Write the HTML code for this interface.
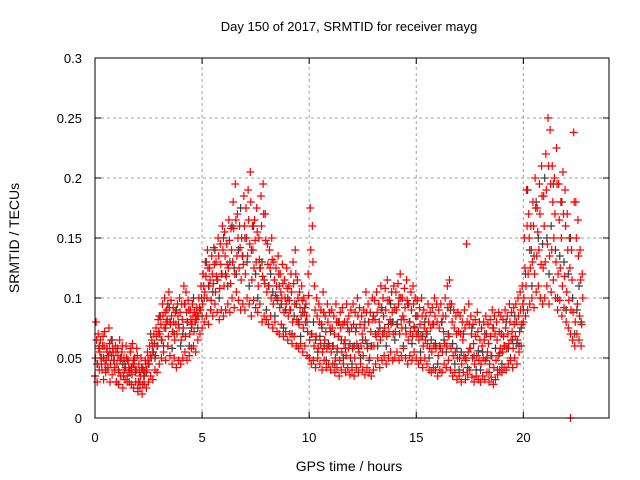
<!DOCTYPE html>
<html><head><meta charset="utf-8"><style>
body{margin:0;background:#fff}
svg{display:block;font-family:"Liberation Sans",sans-serif}
</style></head><body>
<svg id="chart" width="640" height="480" viewBox="0 0 640 480" xmlns="http://www.w3.org/2000/svg">
<rect width="640" height="480" fill="#fff"/>
<text x="349" y="31" font-size="13" text-anchor="middle">Day 150 of 2017, SRMTID for receiver mayg</text>
<text x="349" y="471" font-size="14" text-anchor="middle">GPS time / hours</text>
<text transform="translate(19,238) rotate(-90)" font-size="14" text-anchor="middle">SRMTID / TECUs</text>
<g id="grid"></g>
<g id="ticks"></g>
<g id="gray"></g>
<g id="red"></g>
<rect x="95" y="58" width="514" height="360" fill="none" stroke="#000" stroke-width="1"/>
</svg>
<script>
const xTicks=[0,5,10,15,20];
const yTicks=[0,0.05,0.1,0.15,0.2,0.25,0.3];
const yTickLabels=["0","0.05","0.1","0.15","0.2","0.25","0.3"];
const redStep=0.1;
const redLo=[.035,.030,.040,.045,.032,.038,.042,.030,.036,.040,
.030,.028,.035,.025,.032,.030,.038,.028,.025,.030,
.022,.025,.020,.028,.025,.030,.035,.032,.040,.038,
.045,.050,.055,.048,.060,.052,.045,.050,.042,.048,
.045,.050,.055,.048,.052,.058,.060,.055,.065,.070,
.075,.080,.085,.078,.090,.085,.095,.088,.082,.090,
.085,.090,.095,.088,.100,.092,.105,.098,.090,.095,
.090,.100,.095,.085,.098,.092,.088,.095,.080,.085,
.082,.078,.085,.075,.080,.072,.070,.078,.068,.072,
.065,.070,.062,.068,.060,.058,.062,.055,.060,.052,
.050,.045,.048,.042,.050,.045,.040,.048,.042,.045,
.040,.045,.038,.042,.035,.040,.045,.038,.042,.036,
.040,.035,.042,.038,.045,.040,.036,.042,.038,.035,
.040,.045,.050,.042,.048,.052,.045,.050,.055,.048,
.050,.055,.048,.052,.058,.050,.045,.052,.048,.055,
.050,.045,.048,.042,.050,.045,.040,.038,.042,.040,
.035,.040,.038,.045,.042,.048,.040,.035,.038,.032,
.035,.030,.038,.032,.036,.040,.034,.030,.035,.032,
.030,.035,.032,.038,.030,.034,.028,.032,.036,.040,
.038,.042,.040,.045,.048,.042,.050,.045,.055,.060,
.080,.085,.090,.095,.100,.092,.105,.110,.100,.095,
.100,.110,.095,.105,.115,.100,.090,.098,.085,.092,
.080,.075,.070,.065,.060,.070,.065,.060];
const redMid1=[.050,.045,.055,.040,.060,.048,.052,.045,.058,.042,
.045,.038,.050,.035,.042,.048,.040,.036,.045,.040,
.030,.035,.028,.038,.040,.045,.050,.055,.052,.060,
.070,.065,.075,.080,.068,.078,.072,.065,.070,.075,
.065,.075,.068,.080,.070,.078,.072,.082,.085,.090,
.095,.105,.100,.110,.098,.112,.105,.115,.108,.120,
.110,.118,.125,.112,.130,.120,.135,.125,.115,.128,
.120,.135,.145,.115,.125,.130,.110,.125,.118,.112,
.105,.110,.100,.095,.102,.098,.092,.100,.088,.095,
.085,.090,.080,.095,.082,.078,.085,.075,.080,.072,
.065,.070,.060,.068,.058,.062,.055,.065,.058,.060,
.055,.060,.050,.058,.048,.055,.062,.052,.058,.050,
.058,.050,.062,.055,.060,.052,.065,.058,.050,.060,
.060,.068,.072,.065,.070,.075,.068,.072,.078,.070,
.072,.078,.070,.075,.082,.070,.065,.072,.068,.075,
.070,.065,.068,.060,.065,.062,.058,.055,.060,.058,
.052,.058,.055,.062,.060,.068,.058,.052,.055,.050,
.050,.045,.052,.048,.055,.058,.050,.045,.052,.048,
.045,.050,.048,.055,.045,.052,.042,.048,.052,.058,
.055,.060,.058,.062,.065,.058,.068,.065,.072,.078,
.100,.110,.120,.125,.130,.120,.135,.140,.128,.125,
.130,.145,.135,.140,.150,.130,.120,.125,.110,.118,
.105,.098,.090,.088,.080,.095,.085,.078];
const redMid2=[.065,.058,.050,.068,.045,.055,.062,.052,.048,.055,
.052,.048,.060,.040,.050,.042,.058,.045,.040,.052,
.038,.042,.035,.045,.048,.052,.060,.062,.068,.072,
.078,.085,.088,.082,.092,.085,.080,.078,.085,.088,
.082,.095,.088,.090,.082,.085,.080,.085,.092,.100,
.110,.118,.125,.115,.120,.128,.118,.135,.128,.140,
.135,.128,.148,.140,.158,.165,.150,.142,.135,.160,
.150,.165,.180,.140,.148,.155,.132,.160,.170,.148,
.128,.125,.132,.115,.110,.120,.105,.112,.100,.108,
.098,.105,.112,.120,.100,.092,.098,.088,.085,.102,
.140,.130,.090,.085,.080,.078,.088,.072,.080,.075,
.075,.070,.080,.068,.075,.078,.065,.080,.072,.075,
.078,.072,.085,.078,.070,.075,.088,.080,.072,.082,
.082,.088,.080,.092,.085,.090,.098,.082,.088,.092,
.090,.095,.100,.085,.092,.098,.080,.090,.095,.085,
.085,.078,.085,.075,.072,.080,.075,.078,.085,.080,
.075,.080,.072,.085,.092,.095,.080,.075,.070,.072,
.070,.065,.075,.080,.078,.070,.062,.068,.072,.065,
.060,.065,.070,.062,.068,.075,.070,.065,.072,.070,
.068,.075,.070,.080,.072,.078,.080,.085,.090,.095,
.125,.160,.150,.140,.160,.175,.155,.170,.185,.160,
.190,.210,.195,.180,.170,.195,.165,.150,.170,.160,
.140,.125,.115,.180,.150,.135,.115,.100];
const redHi=[.080,.070,.065,.060,.072,.058,.075,.065,.055,.060,
.058,.065,.055,.050,.060,.048,.055,.062,.050,.058,
.045,.050,.040,.048,.055,.060,.065,.070,.075,.082,
.085,.095,.100,.090,.105,.098,.092,.088,.095,.100,
.095,.110,.105,.098,.090,.095,.088,.092,.100,.110,
.120,.130,.140,.125,.135,.142,.130,.150,.145,.160,
.155,.145,.165,.158,.180,.195,.170,.160,.150,.185,
.175,.190,.205,.160,.165,.175,.150,.185,.195,.170,
.145,.140,.150,.130,.125,.135,.120,.128,.115,.125,
.110,.120,.130,.140,.115,.105,.110,.100,.095,.120,
.175,.160,.110,.100,.095,.090,.105,.085,.095,.088,
.090,.085,.095,.080,.088,.092,.080,.095,.085,.090,
.095,.088,.100,.092,.085,.090,.105,.095,.088,.100,
.098,.105,.095,.110,.100,.108,.115,.098,.105,.110,
.105,.112,.120,.100,.108,.115,.095,.105,.110,.100,
.098,.092,.100,.090,.085,.095,.088,.092,.100,.095,
.090,.095,.085,.100,.110,.115,.095,.090,.085,.088,
.085,.080,.090,.145,.095,.085,.078,.082,.088,.080,
.075,.080,.085,.078,.082,.090,.085,.080,.088,.085,
.082,.090,.085,.095,.088,.092,.095,.100,.105,.110,
.150,.190,.170,.160,.180,.200,.175,.195,.210,.185,
.220,.250,.240,.210,.200,.225,.195,.180,.205,.190,
.170,.150,.140,.238,.180,.165,.140,.120];
const grayStep=0.2;
const grayVals=[.045,.050,.040,.055,.048,.040,.045,.035,.042,.038,
.030,.035,.045,.055,.060,.065,.075,.080,.070,.078,
.070,.080,.075,.085,.090,.100,.110,.105,.115,.120,
.120,.130,.125,.140,.135,.130,.140,.120,.125,.115,
.110,.105,.100,.095,.090,.090,.085,.080,.088,.080,
.070,.065,.068,.060,.062,.060,.055,.065,.058,.062,
.060,.058,.065,.062,.060,.070,.075,.072,.078,.080,
.078,.082,.075,.080,.076,.072,.068,.070,.065,.062,
.060,.065,.070,.062,.058,.055,.050,.058,.052,.056,
.055,.050,.052,.058,.054,.060,.058,.065,.062,.075,
.120,.140,.135,.150,.145,.150,.160,.140,.135,.130,
.120,.100,.090,.080];
const grayVals2=[.035,.060,.050,.042,.065,.030,.050,.045,.030,.048,
.025,.042,.038,.070,.050,.085,.060,.095,.058,.090,
.060,.095,.060,.100,.075,.085,.130,.090,.140,.100,
.150,.110,.160,.120,.175,.150,.110,.160,.100,.130,
.090,.120,.085,.110,.075,.100,.070,.095,.068,.092,
.050,.080,.055,.075,.048,.072,.045,.080,.050,.075,
.045,.075,.050,.080,.048,.085,.060,.090,.060,.095,
.065,.100,.060,.095,.062,.085,.055,.080,.050,.078,
.045,.080,.055,.090,.045,.040,.070,.042,.075,.040,
.040,.070,.038,.075,.040,.045,.080,.050,.085,.060,
.090,.190,.110,.180,.100,.200,.120,.195,.100,.180,
.090,.150,.070,.110];
const outlierTimes=[22.2];
const outlierVals=[0];

const X0=95,X1=609,Y0=418,Y1=58,XMAX=24,YMAX=0.3;
const xs=t=>X0+(X1-X0)*t/XMAX;
const ys=v=>Y0-(Y0-Y1)*v/YMAX;
const NS="http://www.w3.org/2000/svg";
function mk(tag,attrs,parent){const e=document.createElementNS(NS,tag);for(const k in attrs)e.setAttribute(k,attrs[k]);parent.appendChild(e);return e;}
const grid=document.getElementById('grid'),ticks=document.getElementById('ticks');
xTicks.forEach(t=>{const x=xs(t);
 if(t>0){const g=mk('line',{x1:x,x2:x,y1:Y0,y2:Y1,stroke:'#a0a0a0','stroke-dasharray':'3,3'},grid);
 
 }
 mk('line',{x1:x,x2:x,y1:Y0,y2:Y0-6,stroke:'#000'},ticks);
 mk('line',{x1:x,x2:x,y1:Y1,y2:Y1+6,stroke:'#000'},ticks);
 const l=mk('text',{x:x,y:Y0+24,'font-size':13,'text-anchor':'middle'},ticks);l.textContent=t;
 
 });
yTicks.forEach((v,i)=>{const y=ys(v);
 if(v>0&&v<YMAX){const g=mk('line',{x1:X0,x2:X1,y1:y,y2:y,stroke:'#a0a0a0','stroke-dasharray':'3,3'},grid);
 
 }
 mk('line',{x1:X0,x2:X0+6,y1:y,y2:y,stroke:'#000'},ticks);
 mk('line',{x1:X1,x2:X1-6,y1:y,y2:y,stroke:'#000'},ticks);
 const l=mk('text',{x:X0-13,y:y+5,'font-size':13,'text-anchor':'end'},ticks);l.textContent=yTickLabels[i];
 
 });
function plus(parent,t,v,color,name){const x=xs(t),y=ys(v);
 const p=mk('path',{d:`M${x-4},${y}h8M${x},${y-4}v8`,stroke:color,'stroke-width':1.2,fill:'none'},parent);
 
 }
const gray=document.getElementById('gray'),red=document.getElementById('red');
grayVals.forEach((v,i)=>plus(gray,i*grayStep+0.1,v,'#3c3c3c','gray-point'));
grayVals2.forEach((v,i)=>plus(gray,i*grayStep,v,'#3c3c3c','gray-point'));
redLo.forEach((v,i)=>plus(red,i*redStep,v,'#ff0000','red-point'));
redMid1.forEach((v,i)=>plus(red,i*redStep+0.025,v,'#ff0000','red-point'));
redMid2.forEach((v,i)=>plus(red,i*redStep+0.075,v,'#ff0000','red-point'));
redHi.forEach((v,i)=>plus(red,i*redStep+0.05,v,'#ff0000','red-point'));
outlierTimes.forEach((t,i)=>plus(red,t,outlierVals[i],'#ff0000','red-point'));
</script>
</body></html>
